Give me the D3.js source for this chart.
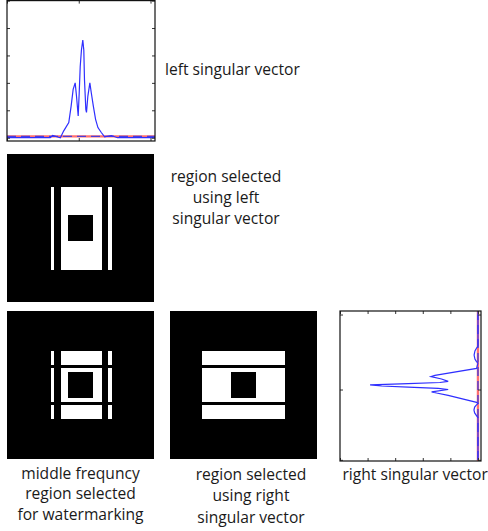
<!DOCTYPE html>
<html>
<head>
<meta charset="utf-8">
<script src="https://cdn.jsdelivr.net/npm/d3@7"></script>
<style>
  body { margin: 0; background: #fff; }
  text { font-family: "Open Sans", sans-serif; font-size: 15.6px; fill: #1a1a1a; }
</style>
</head>
<body>
<script>
// left singular vector (index -> value)
var leftIndex = [0, 38.6, 40.7, 47.6, 50.6, 55.1, 57.2, 59.0, 60.8, 62.0, 63.5, 64.4, 65.3, 66.4, 67.6,
                 68.5, 69.1, 70.3, 70.9, 72.1, 73.9, 75.2, 77.0, 79.0, 81.1, 84.1, 87.1, 93.1, 98.5, 132];
var leftValue = [0, 0, 0.008, 0, 0.025, 0.055, 0.115, 0.176, 0.2, 0.151, 0.079, 0.163, 0.26, 0.32, 0.356,
                 0.32, 0.212, 0.103, 0.092, 0.151, 0.2, 0.163, 0.115, 0.067, 0.037, 0.019, 0.003, 0.008, 0, 0];
var leftLevel = 0.005;
var leftXTicks = [0, 64, 128];
var leftYTicks = [0, 0.1, 0.2, 0.3, 0.4, 0.5];

// right singular vector (index -> value), plotted sideways
var rightIndex = [0, 27, 29, 31, 34.6, 38, 40, 41.4, 46, 52, 53, 55, 57, 58, 59, 60, 61, 62, 63, 64, 66, 67, 69, 75,
                  76, 77.5, 79, 81.5, 84, 86, 88, 124];
var rightValue = [0, 0, -0.006, -0.011, -0.014, -0.011, -0.006, 0, -0.005, -0.156, -0.17, -0.132, -0.108, -0.138,
                  -0.253, -0.391, -0.349, -0.253, -0.144, -0.108, -0.168, -0.15, -0.108, -0.005,
                  0, -0.007, -0.012, -0.0145, -0.012, -0.006, 0, 0];
var rightLevel = 0;
var rightXTicks = [-0.5, -0.4, -0.3, -0.2, -0.1, 0];
var rightYTicks = [0, 64, 124];

// selected regions (image coordinates 0..100)
var leftBands  = [[29.7, 32.0], [37.0, 64.3], [68.4, 71.4]];
var rightBands = [[27.3, 36.8], [38.8, 61.5], [63.5, 73.0]];
var bandSpan   = [22, 78.5];
var hole       = [41.5, 58.5];

var labelTopRight = ['left singular vector'];
var labelLeftReg  = ['region selected', 'using left', 'singular vector'];
var labelMiddle   = ['middle frequncy', 'region selected', 'for watermarking'];
var labelRightReg = ['region selected', 'using right', 'singular vector'];
var labelRightVec = ['right singular vector'];

var svg = d3.select('body').append('svg')
            .attr('width', 488)
            .attr('height', 531);

///////////////////////////////////////////////////////////////////////////////
////////////////////////////////   plots   ////////////////////////////////////
///////////////////////////////////////////////////////////////////////////////

function drawBox(g, x, y, xTicks, yTicks){
  var x0 = x.range()[0], x1 = x.range()[1];
  var y0 = d3.min(y.range()), y1 = d3.max(y.range());

  g.append('g').attr('transform', 'translate(' + x0 + ',0)')
   .call(d3.axisRight(y).tickValues(yTicks).tickSize(3).tickFormat(''));
  g.append('g').attr('transform', 'translate(' + x1 + ',0)')
   .call(d3.axisLeft(y).tickValues(yTicks).tickSize(3).tickFormat(''));
  g.append('g').attr('transform', 'translate(0,' + y0 + ')')
   .call(d3.axisBottom(x).tickValues(xTicks).tickSize(3).tickFormat(''));
  g.append('g').attr('transform', 'translate(0,' + y1 + ')')
   .call(d3.axisTop(x).tickValues(xTicks).tickSize(3).tickFormat(''));
  g.selectAll('.domain').remove();
  g.selectAll('.tick line').attr('stroke', '#333');

  g.append('rect')
   .attr('x', x0).attr('y', y0)
   .attr('width', x1 - x0).attr('height', y1 - y0)
   .attr('fill', 'none').attr('stroke', '#111').attr('stroke-width', 1.2);
}

function drawLeftPlot(){
  var g = svg.append('g');
  var x = d3.scaleLinear().domain([0, 132]).range([7, 155]);
  var y = d3.scaleLinear().domain([-0.012, 0.5]).range([141, 0.6]);

  var line = d3.line()
               .x(function(d){ return x(d[0]); })
               .y(function(d){ return y(d[1]); });
  var pts = leftIndex.map(function(d, i){ return [d, leftValue[i]]; });
  var lvl = [[0, leftLevel], [132, leftLevel]];

  g.append('path').attr('d', line(lvl))
   .attr('stroke', '#ff7070').attr('stroke-width', 2.4).attr('fill', 'none');
  g.append('path').attr('d', line(lvl))
   .attr('stroke', '#4b3dd8').attr('stroke-width', 1.4).attr('fill', 'none')
   .attr('stroke-dasharray', '9,5');
  g.append('path').attr('d', line(pts))
   .attr('stroke', '#2f2fff').attr('stroke-width', 1.2).attr('fill', 'none');

  drawBox(g, x, y, leftXTicks, leftYTicks);
}

function drawRightPlot(){
  var g = svg.append('g');
  var x = d3.scaleLinear().domain([-0.5, 0.011]).range([340, 481]);
  var y = d3.scaleLinear().domain([-3, 125]).range([311, 461]);

  var line = d3.line()
               .x(function(d){ return x(d[1]); })
               .y(function(d){ return y(d[0]); });
  var pts = rightIndex.map(function(d, i){ return [d, rightValue[i]]; });
  var lvl = [[-3, rightLevel], [125, rightLevel]];

  g.append('path').attr('d', line(lvl))
   .attr('stroke', '#ff7070').attr('stroke-width', 2.4).attr('fill', 'none');
  g.append('path').attr('d', line(lvl))
   .attr('stroke', '#4b3dd8').attr('stroke-width', 1.4).attr('fill', 'none')
   .attr('stroke-dasharray', '9,5');
  g.append('path').attr('d', line(pts))
   .attr('stroke', '#2f2fff').attr('stroke-width', 1.2).attr('fill', 'none');

  drawBox(g, x, y, rightXTicks, rightYTicks);
}

///////////////////////////////////////////////////////////////////////////////
////////////////////////////////   images   ///////////////////////////////////
///////////////////////////////////////////////////////////////////////////////

function drawImage(left, top, rects){
  var ix = d3.scaleLinear().domain([0, 100]).range([left, left + 147]);
  var iy = d3.scaleLinear().domain([0, 100]).range([top, top + 148]);
  var g = svg.append('g').attr('shape-rendering', 'crispEdges');

  g.append('rect')
   .attr('x', ix(0)).attr('y', iy(0))
   .attr('width', ix(100) - ix(0)).attr('height', iy(100) - iy(0))
   .attr('fill', '#000');

  g.selectAll('rect.on').data(rects).enter().append('rect')
   .attr('class', 'on')
   .attr('x', function(d){ return ix(d.x[0]); })
   .attr('y', function(d){ return iy(d.y[0]); })
   .attr('width', function(d){ return ix(d.x[1]) - ix(d.x[0]); })
   .attr('height', function(d){ return iy(d.y[1]) - iy(d.y[0]); })
   .attr('fill', '#fff');

  g.append('rect')
   .attr('x', ix(hole[0])).attr('y', iy(hole[0]))
   .attr('width', ix(hole[1]) - ix(hole[0])).attr('height', iy(hole[1]) - iy(hole[0]))
   .attr('fill', '#000');
}

var leftRegion = leftBands.map(function(b){ return {x: b, y: bandSpan}; });
var rightRegion = rightBands.map(function(b){ return {x: bandSpan, y: b}; });
var midRegion = [];
leftBands.forEach(function(a){
  rightBands.forEach(function(b){ midRegion.push({x: a, y: b}); });
});

///////////////////////////////////////////////////////////////////////////////
////////////////////////////////   labels   ///////////////////////////////////
///////////////////////////////////////////////////////////////////////////////

function drawLabel(lines, x, y, anchor, step){
  svg.append('text')
     .attr('text-anchor', anchor)
     .selectAll('tspan').data(lines).enter().append('tspan')
     .attr('x', x)
     .attr('y', function(d, i){ return y + i * step; })
     .text(function(d){ return d; });
}

drawLeftPlot();
drawRightPlot();
drawImage(7, 154, leftRegion);
drawImage(7, 311, midRegion);
drawImage(170, 311, rightRegion);

drawLabel(labelTopRight, 165, 75, 'start', 0);
drawLabel(labelLeftReg, 226, 181.5, 'middle', 21);
drawLabel(labelMiddle, 80.5, 478.5, 'middle', 20.5);
drawLabel(labelRightReg, 251, 479.5, 'middle', 21.5);
drawLabel(labelRightVec, 342.5, 480, 'start', 0);
</script>
</body>
</html>
